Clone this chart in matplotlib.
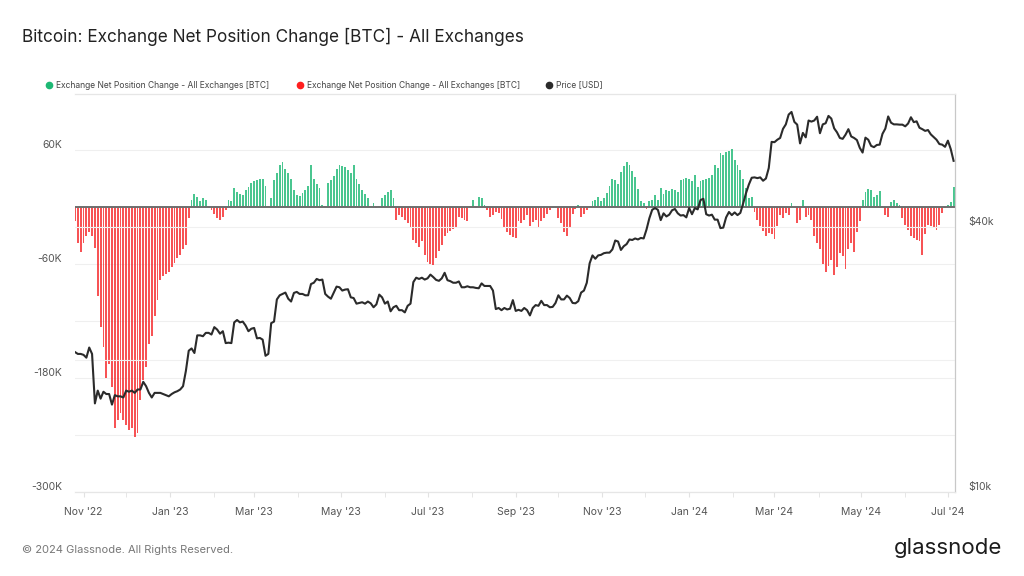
import matplotlib
matplotlib.use('Agg')
import matplotlib.pyplot as plt
import matplotlib.dates as mdates
from matplotlib.lines import Line2D
from matplotlib.ticker import FixedLocator, NullLocator
import numpy as np
import pandas as pd

plt.rcParams['font.family'] = ['Inter', 'DejaVu Sans']

# one value every two days, starting 2022-10-26
start_date = '2022-10-26'

# exchange net position change, thousands of BTC
netpos_k = [
    -15, -38, -47, -38, -30, -26, -31, -43, -94, -126, -147, -180, -165, -189, -233, -224,
    -217, -224, -229, -235, -233, -242, -238, -203, -182, -168, -144, -136, -115, -98, -77, -73,
    -70, -68, -63, -59, -54, -51, -44, -40, -12, 7, 14, 11, 6, 9, 7, -1,
    -3, -7, -12, -14, -10, -3, 7, 6, 20, 16, 14, 13, 18, 21, 25,
    27, 28, 30, 29, 22, 1, 10, 28, 36, 44, 47, 40, 36, 30, 18, 13,
    12, 15, 18, 22, 44, 30, 24, 20, 2, 1, 25, 28, 33, 40, 44, 43,
    42, 39, 36, 44, 30, 24, 18, 14, 10, 1, 4, -1, 1, 10, 13, 16,
    18, 10, -14, -8, -10, -14, -17, -22, -35, -38, -42, -36, -50,
    -58, -60, -61, -54, -46, -40, -30, -27, -25, -23, -21, -11, -12, -14, -15, 1,
    7, -1, 11, 10, 2, -3, -10, -8, -5, -6, -13, -21, -26, -29, -32, -33,
    -15, -17, -14, -8, -20, -16, -14, -21, -15, -12, -7, -3, -1, -0.5, -12, -17,
    -26, -30, -21, -7, -2, 2, -10, -7, -3, 1, 6, 7, 11, 6,
    9, 15, 22, 29, 28, 24, 37, 43, 47, 44, 38, 32, 19, 6, 4, -2,
    6, 7, 13, 7, 20, 14, 18, 17, 19, 18, 16, 28, 30, 31, 29, 27,
    34, 21, 27, 28, 30, 31, 34, 44, 41, 57, 55, 58, 59, 61, 49, 44,
    39, 30, 20, 9, 11, -5, -14, -20, -25, -30, -27, -28, -34,
    -20, -8, -12, -6, -8, 4, 0.5, -17, -14, 7, -10, -8, -14, -30, -38, -44,
    -60, -68, -62, -56, -72, -63, -48, -52, -65, -44, -38, -47, -26, -15, 7, 16,
    19, 18, 11, 13, 17, 1, -8, -10, 5, 7, 4, 2, -12, -19, -24, -31,
    -33, -35, -36, -51, -28, -19, -20, -21, -24, -19, -6, -1, 2, 5, 21,
]

# BTC price, thousands of USD
price_k = [
    20.8, 20.6, 20.6,
    20.5, 20.2, 21.3, 20.6, 15.9, 17.0, 16.3, 16.9, 16.7, 16.7, 15.8, 16.6, 16.5, 16.5, 16.4,
    17.0, 16.9, 17.0, 16.8, 17.1, 17.1, 17.8, 17.4, 16.8, 16.4, 16.8, 16.8, 16.8, 16.7, 16.6, 16.5,
    16.7, 16.85, 16.95, 17.1, 17.4, 18.85, 20.95, 21.2, 20.7, 22.7, 22.7, 22.6, 23.0, 23.0, 22.8,
    23.7, 23.4, 22.9, 23.2, 21.8, 21.85, 21.8, 24.3, 24.6, 24.3, 24.4, 23.9, 23.2, 23.5,
    23.6, 22.35, 22.4, 22.2, 20.4, 20.6, 24.2, 24.4, 27.4, 28.0, 28.2, 28.4, 27.5, 27.1, 28.35, 28.5,
    28.2, 28.2, 28.0, 28.0, 29.7, 29.9, 30.5, 30.3, 30.4, 28.2, 27.8, 27.5, 28.4, 29.3, 29.2,
    28.7, 28.85, 28.9, 27.7, 27.6, 26.8, 26.9, 27.0, 26.8, 27.1, 26.85, 26.3, 26.7, 28.1, 27.7,
    26.8, 27.1, 25.75, 26.3, 26.5, 25.9, 25.9, 25.6, 26.5, 26.8, 30.0, 30.7, 30.5, 30.7, 30.4,
    30.6, 31.2, 30.8, 30.35, 30.2, 30.6, 31.5, 30.3, 30.15, 29.9, 29.9, 30.1, 29.2, 29.2, 29.35, 29.2,
    29.2, 29.1, 29.05, 29.8, 29.4, 29.4, 29.4, 28.7, 26.05, 26.2, 25.9, 26.2, 26.0, 26.1, 27.3,
    25.8, 25.95, 25.8, 26.2, 25.9, 25.2, 26.2, 26.6, 26.5, 27.2, 26.6, 26.6, 26.3, 26.35, 26.9,
    28.0, 27.4, 27.4, 27.95, 27.6, 26.9, 26.85, 27.15, 28.4, 28.7, 29.9, 33.1, 34.5, 33.9, 34.5, 34.6,
    34.9, 35.0, 35.0, 35.6, 37.3, 37.1, 35.5, 36.2, 36.6, 37.5, 37.4, 37.7, 37.5, 37.8, 37.7,
    39.5, 41.9, 43.8, 44.2, 43.8, 41.5, 43.0, 42.3, 42.7, 43.7, 43.99, 43.0, 42.5, 42.6, 42.1,
    44.2, 42.8, 44.2, 43.9, 46.1, 46.4, 42.8, 42.5, 42.7, 41.6, 41.6, 39.8, 39.9, 42.1, 43.3, 42.6,
    43.2, 42.6, 43.1, 45.3, 47.8, 50.0, 51.8, 51.9, 51.7, 51.9, 51.0, 51.6, 54.5, 62.5,
    62.4, 63.2, 63.8, 66.9, 68.5, 72.1, 73.1, 69.4, 68.4, 62.0, 65.5, 64.0, 69.9, 69.5, 69.9, 71.3,
    65.4, 68.5, 68.9, 71.6, 70.6, 67.1, 65.7, 63.8, 63.5, 64.9, 66.8, 64.3, 63.8, 63.1, 60.6,
    59.1, 63.9, 63.2, 61.2, 60.8, 61.5, 61.6, 65.2, 67.0, 71.4, 69.1, 68.5, 68.5, 68.4, 68.4,
    67.8, 68.8, 71.1, 69.3, 69.6, 67.3, 66.8, 66.2, 66.5, 65.0, 64.1, 63.2, 61.8, 61.6, 60.9,
    62.9, 60.2, 56.6,
]

left_ticks = [60000, -60000, -180000, -300000]
left_labels = ['60K', '-60K', '-180K', '-300K']
right_ticks = [10000, 40000]
right_labels = ['$10k', '$40k']
legend_labels = ['Exchange Net Position Change - All Exchanges [BTC]',
                 'Exchange Net Position Change - All Exchanges [BTC]',
                 'Price [USD]']

green = '#1db874'
red = '#f5282b'
dark = '#2b2b2b'

dates = pd.date_range(start_date, periods=len(netpos_k), freq='2D')
netpos = np.array(netpos_k) * 1000
price = np.array(price_k) * 1000

fig = plt.figure(figsize=(10.24, 5.76), dpi=100)
ax = fig.add_axes([75 / 1024, 84 / 576, 880 / 1024, 398 / 576])
ax2 = ax.twinx()

# grid lines
for v in range(60000, -300001, -60000):
    if v != 0:
        ax.axhline(v, color='#efefef', lw=0.8, zorder=0)
for v in [20000, 40000]:
    ax2.axhline(v, color='#f0f0f0', lw=0.8, zorder=0)

bar_colors = np.where(netpos >= 0, green, red)
ax.bar(dates, netpos, width=1.3, color=bar_colors, alpha=0.8, linewidth=0, zorder=2)
ax.axhline(0, color='#6e6e6e', lw=1.4, zorder=3)

ax2.plot(dates, price, color=dark, lw=1.5, zorder=4)

ax.set_xlim(pd.Timestamp('2022-10-26'), pd.Timestamp('2024-07-06'))
ax.set_ylim(-300000, 119000)
ax2.set_yscale('log')
ax2.set_ylim(10000, 80300)

ax.yaxis.set_major_locator(FixedLocator(left_ticks))
ax.set_yticklabels(left_labels, va='bottom')
ax2.yaxis.set_major_locator(FixedLocator(right_ticks))
ax2.yaxis.set_minor_locator(NullLocator())
ax2.set_yticklabels(right_labels, va='bottom')

ax.xaxis.set_major_locator(mdates.MonthLocator(bymonth=[1, 3, 5, 7, 9, 11]))
ax.xaxis.set_minor_locator(mdates.MonthLocator())
ax.xaxis.set_major_formatter(mdates.DateFormatter("%b '%y"))

ax.tick_params(axis='y', length=0, pad=9.4, labelsize=7.5, labelcolor='#555555')
ax2.tick_params(axis='y', length=0, pad=9.4, labelsize=7.5, labelcolor='#555555')
ax.tick_params(axis='x', which='both', length=3.6, color='#e2e2e2', pad=7,
               labelsize=7.5, labelcolor='#555555')

for a in (ax, ax2):
    a.spines['left'].set_visible(False)
    a.spines['top'].set_color('#e6e6e6')
    a.spines['bottom'].set_color('#e6e6e6')
    a.spines['right'].set_color('#c8c8c8')
    a.patch.set_visible(False)

# title
fig.text(22 / 1024, 1 - 37 / 576, 'Bitcoin: Exchange Net Position Change [BTC] - All Exchanges',
         fontsize=12.4, color='#222222', va='center', ha='left')

# legend
leg_y = 1 - 85 / 576
for x_dot, col, lab in zip([49, 300, 549], [green, '#ff1f1f', dark], legend_labels):
    fig.add_artist(Line2D([x_dot / 1024], [leg_y], marker='o', markersize=4.5,
                          color=col, linestyle='none', transform=fig.transFigure))
    fig.text((x_dot + 7) / 1024, leg_y, lab, fontsize=6.1, color='#444444',
             va='center', ha='left')

# footer
fig.text(22 / 1024, 1 - 550 / 576, '\u00a9 2024 Glassnode. All Rights Reserved.',
         fontsize=8, color='#777777', va='center', ha='left')
fig.text(1002 / 1024, 1 - 548 / 576, 'glassnode', fontsize=16, color='#1c1c1c',
         va='center', ha='right')

fig.savefig('out.png', dpi=100)
